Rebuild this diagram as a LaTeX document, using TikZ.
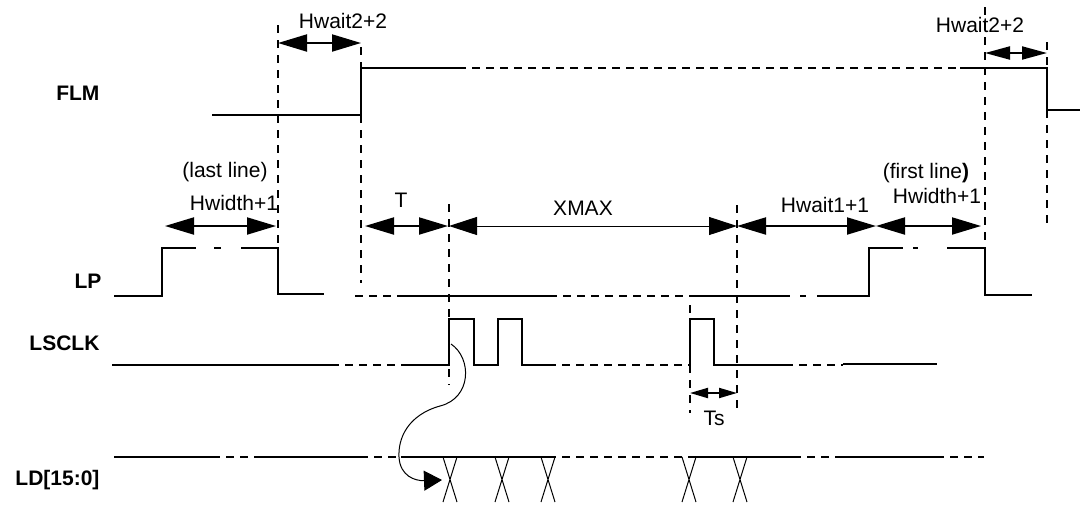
\documentclass[tikz,border=0pt]{standalone}
\usepackage{fontspec}
\setmainfont{Liberation Sans}
\usetikzlibrary{arrows.meta}

\begin{document}
\begin{tikzpicture}[x=1pt,y=-1pt,
  font=\fontsize{21}{25}\selectfont,
  sig/.style={line width=2pt},
  gap/.style={line width=2pt,dash pattern=on 8pt off 6pt},
  guide/.style={line width=2pt,dash pattern=on 8pt off 7pt},
  dim/.style={line width=2pt,{Triangle[length=29pt,width=17pt]}-{Triangle[length=29pt,width=17pt]}},
  dimsmall/.style={line width=2pt,{Triangle[length=25pt,width=13pt]}-{Triangle[length=25pt,width=13pt]}},
  dimtiny/.style={line width=2pt,{Triangle[length=18pt,width=10pt]}-{Triangle[length=18pt,width=10pt]}},
  dimlong/.style={line width=1pt,{Triangle[length=28pt,width=18pt]}-{Triangle[length=28pt,width=18pt]}},
  signame/.style={anchor=base east,font=\fontsize{21}{25}\selectfont\bfseries},
  lbl/.style={anchor=base}]
  \useasboundingbox (0,0) rectangle (1080,504);

  % signal names
  \node[signame] (flm) at (103,100) {FLM};
  \node[signame] (lp) at (105,288) {LP};
  \node[signame] (lsclk) at (103,350) {LSCLK};
  \node[signame] (ld) at (103,485) {LD[15:0]};

  % FLM
  \draw[sig] (212,115) -- (361,115) -- (361,68) -- (458,68);
  \draw[gap] (458,68) -- (960,68);
  \draw[sig] (960,68) -- (1047,68) -- (1047,110) -- (1080,110);

  % LP
  \draw[sig] (114,296) -- (162,296) -- (162,248) -- (196,248);
  \draw[sig] (214,248) -- (221,248);
  \draw[sig] (241,248) -- (278,248) -- (278,294) -- (324,294);
  \draw[gap] (355,296) -- (400,296);
  \draw[sig] (400,296) -- (549,296);
  \draw[gap] (549,296) -- (692,296);
  \draw[sig] (692,296) -- (790,296);
  \draw[sig] (800,296) -- (806,296);
  \draw[sig] (817,296) -- (869,296) -- (869,248) -- (903,248);
  \draw[sig] (913,248) -- (918,248);
  \draw[sig] (947,248) -- (985,248) -- (985,295) -- (1032,295);

  % LSCLK
  \draw[sig] (112,365) -- (331,365);
  \draw[gap] (331,365) -- (401,365);
  \draw[sig] (401,365) -- (449,365) -- (449,319) -- (474,319) -- (474,365)
    -- (498,365) -- (498,319) -- (522,319) -- (522,365) -- (548,365);
  \draw[gap] (548,365) -- (690,365);
  \draw[sig] (690,365) -- (690,319) -- (714,319) -- (714,365) -- (785,365);
  \draw[gap] (785,365) -- (843,365);
  \draw[sig] (843,364) -- (937,364);

  % LD[15:0]
  \draw[sig] (114,457) -- (212,457);
  \draw[gap] (212,457) -- (260,457);
  \draw[sig] (260,457) -- (360,457);
  \draw[gap] (360,457) -- (401,457);
  \draw[sig] (401,457) -- (548,457);
  \draw[gap] (548,457) -- (690,457);
  \draw[sig] (690,457) -- (793,457);
  \draw[gap] (793,457) -- (836,457);
  \draw[sig] (836,457) -- (936,457);
  \draw[gap] (936,457) -- (984,457);
  \foreach \x in {450,502,548,689,740}
    \draw[line width=1pt] (\x-7,457) -- (\x+7,502) (\x+7,457) -- (\x-7,502);

  % guides
  \draw[guide] (278,25) -- (278,248);
  \draw[guide] (361,47) -- (361,68) (361,115) -- (361,283);
  \draw[guide] (449,204) -- (449,385);
  \draw[guide] (690,305) -- (690,413);
  \draw[guide] (737,205) -- (737,413);
  \draw[guide] (985,7) -- (985,248);
  \draw[guide] (1047,42) -- (1047,68) (1047,110) -- (1047,223);

  % timings
  \draw[dim] (278,43) -- (361,43);
  \node[lbl] (hwait2a) at (343,28) {Hwait2+2};
  \draw[dimsmall] (985,53) -- (1047,53);
  \node[lbl] (hwait2b) at (980,32) {Hwait2+2};
  \draw[dim] (165,226) -- (276,226);
  \node[lbl] (lastline) at (225,177) {(last line)};
  \node[lbl] (hwidtha) at (234,210) {Hwidth+1};
  \draw[dim] (365,226) -- (448,226);
  \node[lbl] (tlbl) at (401,207) {T};
  \draw[dimlong] (449,226) -- (737,226);
  \node[lbl] (xmax) at (583,215) {XMAX};
  \draw[dim] (737,226) -- (876,226);
  \node[lbl] (hwait1) at (825,212) {Hwait1+1};
  \draw[dim] (876,226) -- (981,226);
  \node[lbl] (firstline) at (926,178) {(first line\textbf{)}};
  \node[lbl] (hwidthb) at (937,203) {Hwidth+1};
  \draw[dimtiny] (690,393) -- (737,393);
  \node[lbl] (ts) at (714,425) {Ts};

  % clock edge to data
  \coordinate (clkedge) at (451,344);
  \coordinate (ldx) at (442,480);
  \draw[line width=1pt,-{Triangle[length=18pt,width=20pt]}] (clkedge)
    .. controls (472,358) and (472,398) .. (440,406)
    .. controls (408,415) and (398,438) .. (399,457)
    .. controls (400,476) and (415,481) .. (ldx);
\end{tikzpicture}
\end{document}
